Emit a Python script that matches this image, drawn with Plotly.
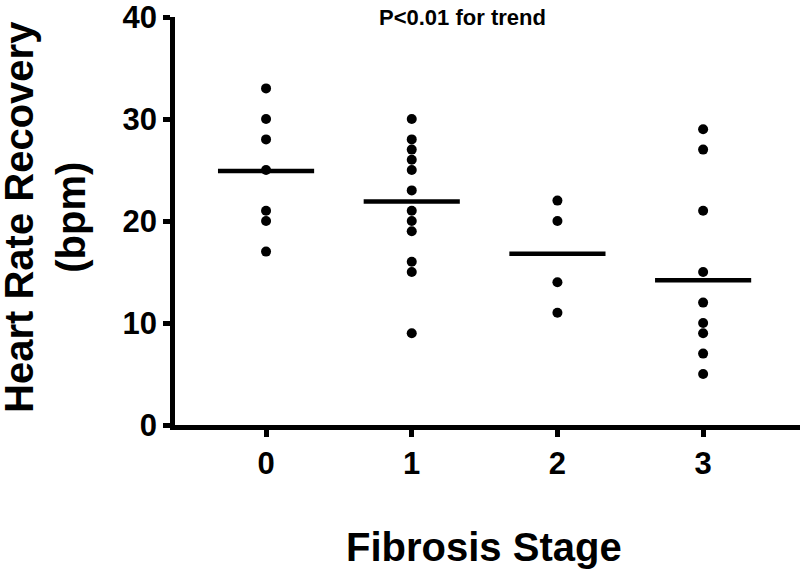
import plotly.graph_objects as go

stages = [0, 1, 2, 3]
stage_labels = ["0", "1", "2", "3"]

hrr_stage0 = [33, 30, 28, 25, 21, 20, 17]
hrr_stage1 = [30, 28, 27, 26, 25, 23, 21, 20, 19, 16, 15, 9]
hrr_stage2 = [22, 20, 14, 11]
hrr_stage3 = [29, 27, 21, 15, 12, 10, 9, 7, 5]

# horizontal centre lines
center_lines = [24.9, 21.9, 16.8, 14.2]

groups = [hrr_stage0, hrr_stage1, hrr_stage2, hrr_stage3]

FONT = "Liberation Sans"
half_w = 0.33

fig = go.Figure()

for st, vals, c in zip(stages, groups, center_lines):
    fig.add_trace(go.Scatter(x=[st] * len(vals), y=vals,
                             mode='markers',
                             marker=dict(color='black', size=10),
                             showlegend=False, cliponaxis=False))
    fig.add_trace(go.Scatter(x=[st - half_w, st + half_w], y=[c, c],
                             mode='lines',
                             line=dict(color='black', width=4.5),
                             showlegend=False))

fig.update_layout(
    width=800, height=576,
    margin=dict(l=175, r=0, t=13, b=151),
    plot_bgcolor='white', paper_bgcolor='white',
    font=dict(family=FONT, color='black'),
)

fig.update_xaxes(range=[-0.625, 3.665], tickvals=stages, ticktext=stage_labels,
                 showline=True, linecolor='black', linewidth=4.5,
                 ticks='outside', ticklen=7, tickwidth=4.5, tickcolor='black',
                 tickfont=dict(size=31, family=FONT, weight='bold'),
                 ticklabeloverflow='allow',
                 showgrid=False, zeroline=False)

fig.update_yaxes(range=[0, 40], tickvals=[0, 10, 20, 30, 40],
                 showline=True, linecolor='black', linewidth=4.5,
                 ticks='outside', ticklen=7, tickwidth=4.5, tickcolor='black',
                 tickfont=dict(size=31, family=FONT, weight='bold'),
                 ticklabeloverflow='allow',
                 showgrid=False, zeroline=False)

fig.add_annotation(text="<b>P<0.01 for trend</b>", x=1.35, xref='x',
                   y=1.0, yref='paper', yanchor='middle', showarrow=False,
                   font=dict(size=22, family=FONT, color='black'))

fig.add_annotation(text="<b>Heart Rate Recovery<br>(bpm)</b>", textangle=-90,
                   x=-0.208, xref='paper', y=0.51, yref='paper',
                   xanchor='center', yanchor='middle', showarrow=False,
                   font=dict(size=40, family=FONT, color='black'))

fig.add_annotation(text="<b>Fibrosis Stage</b>",
                   x=0.494, xref='paper', y=-0.3, yref='paper',
                   xanchor='center', yanchor='middle', showarrow=False,
                   font=dict(size=40, family=FONT, color='black'))

# drop the default page margin so the figure sits at the window's corner
fig.write_html("out.html", config={'displayModeBar': False},
               post_script="document.body.style.margin='0';")
